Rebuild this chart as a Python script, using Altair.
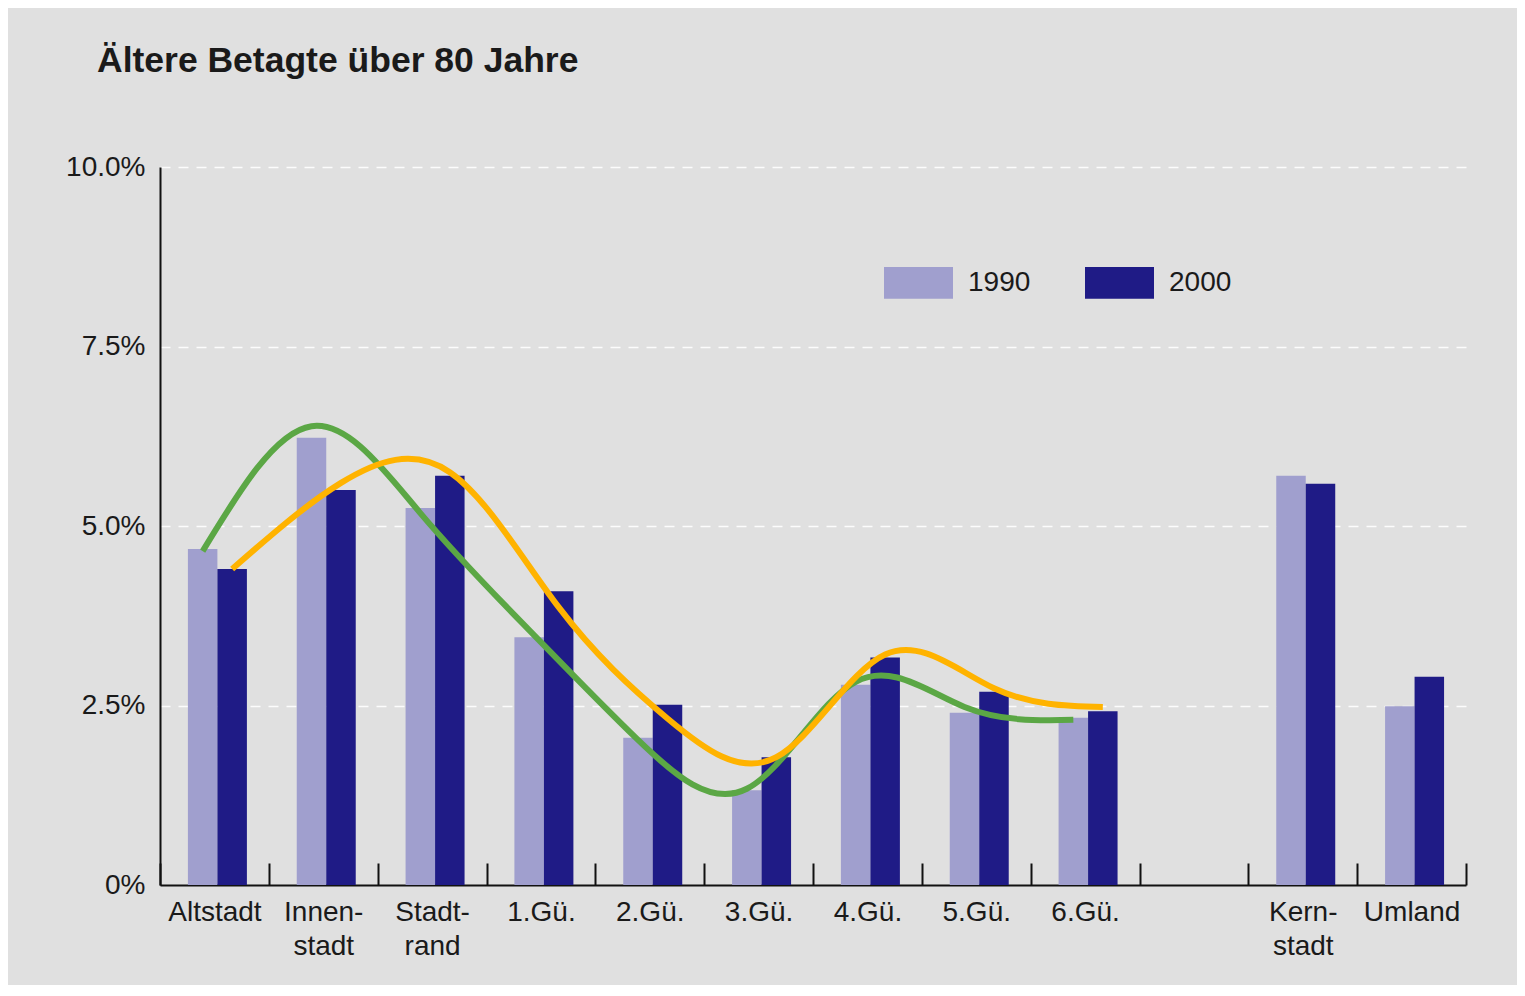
import altair as alt
import pandas as pd

# ---- data ----
bar_categories = ["Altstadt", "Innen-|stadt", "Stadt-|rand", "1.Gü.", "2.Gü.", "3.Gü.",
                  "4.Gü.", "5.Gü.", "6.Gü.", "Kern-|stadt", "Umland"]
values_1990 = [4.68, 6.23, 5.25, 3.45, 2.05, 1.32, 2.79, 2.40, 2.33, 5.70, 2.49]
values_2000 = [4.40, 5.50, 5.70, 4.09, 2.51, 1.78, 3.17, 2.69, 2.42, 5.59, 2.90]

# axis slots (one empty slot between 6.Gü. and Kern-stadt)
axis_domain = bar_categories[:9] + [" "] + bar_categories[9:]

# hand-drawn trend curves over the first nine areas
trend_categories = bar_categories[:9]
trend_1990 = [4.65, 6.39, 5.18, 3.55, 2.02, 1.34, 2.83, 2.48, 2.30]   # green
trend_2000 = [4.40, 5.60, 5.75, 3.87, 2.32, 1.78, 3.21, 2.74, 2.48]   # orange

years = ["1990", "2000"]
y_ticks = [0, 2.5, 5, 7.5, 10]

# ---- tables ----
bars = pd.DataFrame(
    [{"Kategorie": c, "Jahr": "1990", "Wert": v} for c, v in zip(bar_categories, values_1990)]
    + [{"Kategorie": c, "Jahr": "2000", "Wert": v} for c, v in zip(bar_categories, values_2000)]
)
green = pd.DataFrame({"Kategorie": trend_categories, "Wert": trend_1990,
                      "Jahr": "1990", "idx": list(range(len(trend_categories)))})
orange = pd.DataFrame({"Kategorie": trend_categories, "Wert": trend_2000,
                       "Jahr": "2000", "idx": list(range(len(trend_categories)))})

FONT = "Liberation Sans"

x_scale = alt.Scale(domain=axis_domain, paddingInner=0, paddingOuter=0)
off_scale = alt.Scale(domain=years, paddingInner=0, paddingOuter=0.845, align=0.56)
y_scale = alt.Scale(domain=[0, 10])

x_axis = alt.Axis(
    title=None,
    labelExpr="split(datum.label, '|')",
    labelAngle=0,
    labelFont=FONT,
    labelFontSize=28,
    labelColor="#1a1a1a",
    labelLineHeight=34,
    labelPadding=35,
    tickBand="extent",
    ticks=True,
    tickSize={"expr": "-22"},
    tickColor="#111111",
    tickWidth=2,
    domainColor="#111111",
    domainWidth=2,
    grid=False,
)

y_axis = alt.Axis(
    title=None,
    values=y_ticks,
    labelExpr="datum.value == 0 ? '0%' : format(datum.value, '.1f') + '%'",
    labelFont=FONT,
    labelFontSize=28,
    labelColor="#1a1a1a",
    labelPadding=15,
    ticks=False,
    domainColor="#111111",
    domainWidth=2,
    grid=True,
    gridColor="#ffffff",
    gridDash=[10, 8],
    gridWidth=1.5,
    gridOpacity={"condition": {"test": "datum.value == 0", "value": 0}, "value": 0.9},
)

bar_layer = alt.Chart(bars).mark_bar().encode(
    x=alt.X("Kategorie:N", scale=x_scale, axis=x_axis, sort=axis_domain),
    xOffset=alt.XOffset("Jahr:N", scale=off_scale),
    y=alt.Y("Wert:Q", scale=y_scale, axis=y_axis),
    color=alt.Color(
        "Jahr:N",
        scale=alt.Scale(domain=years, range=["#a09fce", "#1f1b86"]),
        legend=alt.Legend(
            title=None,
            orient="none",
            legendX=724,
            legendY=81,
            direction="horizontal",
            symbolType="M-1,-0.46h2v0.92h-2z",
            symbolSize=4761,
            symbolStrokeWidth=0,
            symbolOpacity=1,
            labelFont=FONT,
            labelFontSize=28,
            labelColor="#1a1a1a",
            labelOffset=15,
            columnPadding=54,
        ),
    ),
)


def trend(df, color):
    return alt.Chart(df).mark_line(
        interpolate="natural", strokeWidth=6, color=color, strokeCap="butt"
    ).encode(
        x=alt.X("Kategorie:N", scale=x_scale, sort=axis_domain),
        xOffset=alt.XOffset("Jahr:N", scale=off_scale),
        y=alt.Y("Wert:Q", scale=y_scale),
        order=alt.Order("idx:Q"),
    )


chart = alt.layer(
    bar_layer,
    trend(green, "#5ba745"),
    trend(orange, "#ffb300"),
).properties(
    width=1306,
    height=718,
    autosize=alt.AutoSizeParams(type="none"),
    padding={"left": 152, "top": 159, "right": 51, "bottom": 100},
    background="#e0e0e0",
    title=alt.TitleParams(
        "Ältere Betagte über 80 Jahre",
        anchor="start",
        frame="group",
        font=FONT,
        fontSize=35.5,
        fontWeight="bold",
        color="#1a1a1a",
        dx=-63,
        offset=46,
        baseline="alphabetic",
    ),
).configure_view(stroke=None)

chart.save("out.html", embed_options={"renderer": "svg", "actions": False})
